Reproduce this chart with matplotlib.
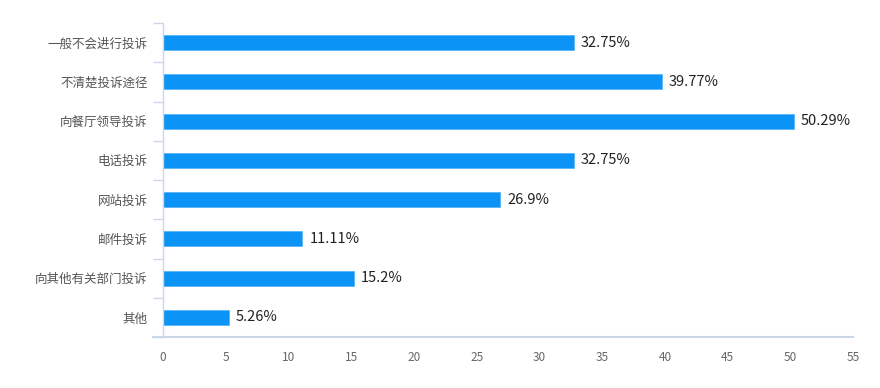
import matplotlib
matplotlib.use("Agg")
import matplotlib.pyplot as plt
import numpy as np

plt.rcParams['font.family'] = ['Noto Sans CJK SC', 'DejaVu Sans']

categories = ["一般不会进行投诉", "不清楚投诉途径", "向餐厅领导投诉", "电话投诉",
              "网站投诉", "邮件投诉", "向其他有关部门投诉", "其他"]
values = [32.75, 39.77, 50.29, 32.75, 26.9, 11.11, 15.2, 5.26]
labels = ["32.75%", "39.77%", "50.29%", "32.75%", "26.9%", "11.11%", "15.2%", "5.26%"]
xticks = [0, 5, 10, 15, 20, 25, 30, 35, 40, 45, 50, 55]

axis_col = "#ccd6eb"
bar_col = "#0b93f5"

fig = plt.figure(figsize=(8.8, 3.88), dpi=100)
ax = fig.add_axes([163 / 880, 51 / 388, 690 / 880, 314 / 388])

y = np.arange(len(categories))
ax.barh(y, values, height=0.38, color=bar_col, edgecolor="#5ab4f5", linewidth=0.6)
for yi, v, t in zip(y, values, labels):
    ax.text(v + 0.55, yi, t, va="center", ha="left", fontsize=10.5, color="#222222")

ax.set_ylim(len(categories) - 0.5, -0.5)
ax.set_xlim(0, 55)
ax.set_yticks(y)
ax.set_yticklabels(categories, fontsize=9, color="#555555")
ax.set_yticks(np.arange(len(categories) + 1) - 0.5, minor=True)
ax.tick_params(axis="y", which="major", length=0, pad=11)
ax.tick_params(axis="y", which="minor", length=7, color=axis_col, width=1)
ax.set_xticks(xticks)
ax.tick_params(axis="x", length=0, labelsize=8.5, labelcolor="#666666", pad=10)

for s in ["top", "right", "bottom"]:
    ax.spines[s].set_visible(False)
ax.spines["left"].set_color(axis_col)
ax.spines["left"].set_linewidth(1)
ax.plot([-10 / 690, 1], [0, 0], transform=ax.transAxes, color=axis_col,
        linewidth=1.5, clip_on=False)

fig.savefig("out.png", dpi=100)
